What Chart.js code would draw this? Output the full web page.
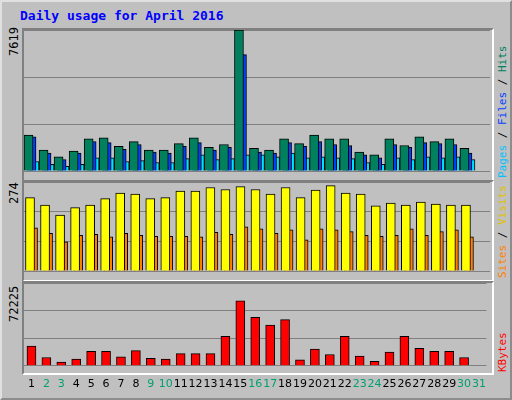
<!DOCTYPE html>
<html><head><meta charset="utf-8">
<script src="https://cdn.jsdelivr.net/npm/chart.js@4"></script>
<style>
body{margin:0;background:#fff}
#wrap{position:relative;width:508px;height:396px;background:#c0c0c0;border:2px outset #e0e0e0;font-family:"DejaVu Sans Mono",monospace}
.panel{position:absolute;left:20px;width:468px;border-top:2px solid #808080;border-left:2px solid #808080;border-bottom:2px solid #fff;border-right:2px solid #fff}
canvas{position:absolute}
.lab{position:absolute;transform:rotate(-90deg);transform-origin:left top;font-size:11px;white-space:nowrap}
</style></head><body>
<div id="wrap">
  <div style="position:absolute;left:18px;top:6px;color:#0000ff;font-weight:bold;font-size:13px">Daily usage for April 2016</div>
  <div class="panel" style="top:26px;height:150px"></div>
  <div class="panel" style="top:178px;height:98px"></div>
  <div class="panel" style="top:279px;height:90px"></div>
  <div class="lab" style="left:5px;top:54px;font-size:12px">7619</div>
  <div class="lab" style="left:5px;top:202px;font-size:12px">274</div>
  <div class="lab" style="left:5px;top:320px;font-size:12px">72225</div>
  <div class="lab" style="left:494px;top:176px"><span style="color:#00c0ff">Pages</span> / <span style="color:#0040ff">Files</span> / <span style="color:#00805c">Hits</span></div>
  <div class="lab" style="left:494px;top:276px"><span style="color:#ff8000">Sites</span> / <span style="color:#e0c000">Visits</span></div>
  <div class="lab" style="left:494px;top:370px"><span style="color:#ff0000">KBytes</span></div>
  <canvas id="c1" style="left:22px;top:28px"></canvas>
  <canvas id="c2" style="left:22px;top:180px"></canvas>
  <canvas id="c3" style="left:22px;top:281px"></canvas>
</div>
<script>
const days = Array.from({length: 31}, (_, i) => String(i + 1));
const weekend = [2, 3, 9, 10, 16, 17, 23, 24, 30, 31];
const hits = [1943,1125,767,1074,1738,1790,1329,1585,1125,1125,1483,1790,1278,1432,7619,1227,1125,1738,1483,1943,1738,1738,1023,869,1738,1380,1841,1585,1738,1227];
const files = [1841,971,614,971,1585,1534,1176,1432,1023,971,1329,1534,1125,1278,6289,1023,971,1534,1329,1585,1432,1380,869,716,1432,1278,1534,1483,1432,971];
const pages = [511,358,256,358,716,716,511,562,460,460,665,869,614,665,869,869,767,971,716,767,716,665,460,358,716,614,767,716,767,614];
const visits = [226,203,172,195,203,223,240,237,223,226,246,246,257,251,260,251,237,257,226,249,263,240,237,201,209,203,212,206,203,203];
const sites = [133,116,90,110,113,105,116,110,107,107,107,105,119,113,136,130,116,127,96,130,127,121,110,107,110,130,110,121,127,105];
const kbytes = [21580,9130,4150,7470,15770,15770,9960,16600,8300,7470,13280,13280,13280,32370,71380,53120,44820,50630,6640,18260,12450,32370,10790,4980,14940,32370,19090,15770,15770,9130];

function ds(vals, shift, color, order) {
  return {data: vals.map((v, i) => ({x: i + 1 + shift, y: v})), backgroundColor: color,
    borderColor: '#000', borderWidth: 1, barThickness: 9, grouped: false, order: order};
}
function make(id, w, h, sets, max, showX) {
  const el = document.getElementById(id);
  el.width = w; el.height = h; el.style.width = w + 'px'; el.style.height = h + 'px';
  new Chart(el, {
    type: 'bar',
    data: {datasets: sets},
    options: {
      responsive: false, animation: false, devicePixelRatio: 1,
      plugins: {legend: {display: false}, tooltip: {enabled: false}},
      layout: {padding: 0},
      scales: {
        x: {type: 'linear', min: 0.5, max: 31.5, offset: false,
          afterBuildTicks: s => { s.ticks = days.map((d, i) => ({value: i + 1})); },
          grid: {display: false}, border: {display: false},
          ticks: {display: showX, autoSkip: false, maxRotation: 0, padding: 4,
            font: {family: 'DejaVu Sans', size: 11},
            color: c => weekend.includes(c.tick.value) ? '#00a070' : '#000',
            callback: v => days[v - 1]}},
        y: {min: 0, max: max, ticks: {display: false, stepSize: max / 3},
          grid: {color: '#808080', drawTicks: false}, border: {display: false}}
      }
    }
  });
}
make('c1', 466, 149, [ds(hits, -0.2, '#00805c', 1), ds(files, 0, '#0040ff', 2), ds(pages, 0.2, '#00e0ff', 3)], 7619, false);
make('c2', 466, 97, [ds(visits, -0.1, '#ffff00', 1), ds(sites, 0.1, '#ff8000', 2)], 274, false);
make('c3', 466, 112, [ds(kbytes, 0, '#ff0000', 1)], 72225 * 112 / 89, true);
</script>
</body></html>
